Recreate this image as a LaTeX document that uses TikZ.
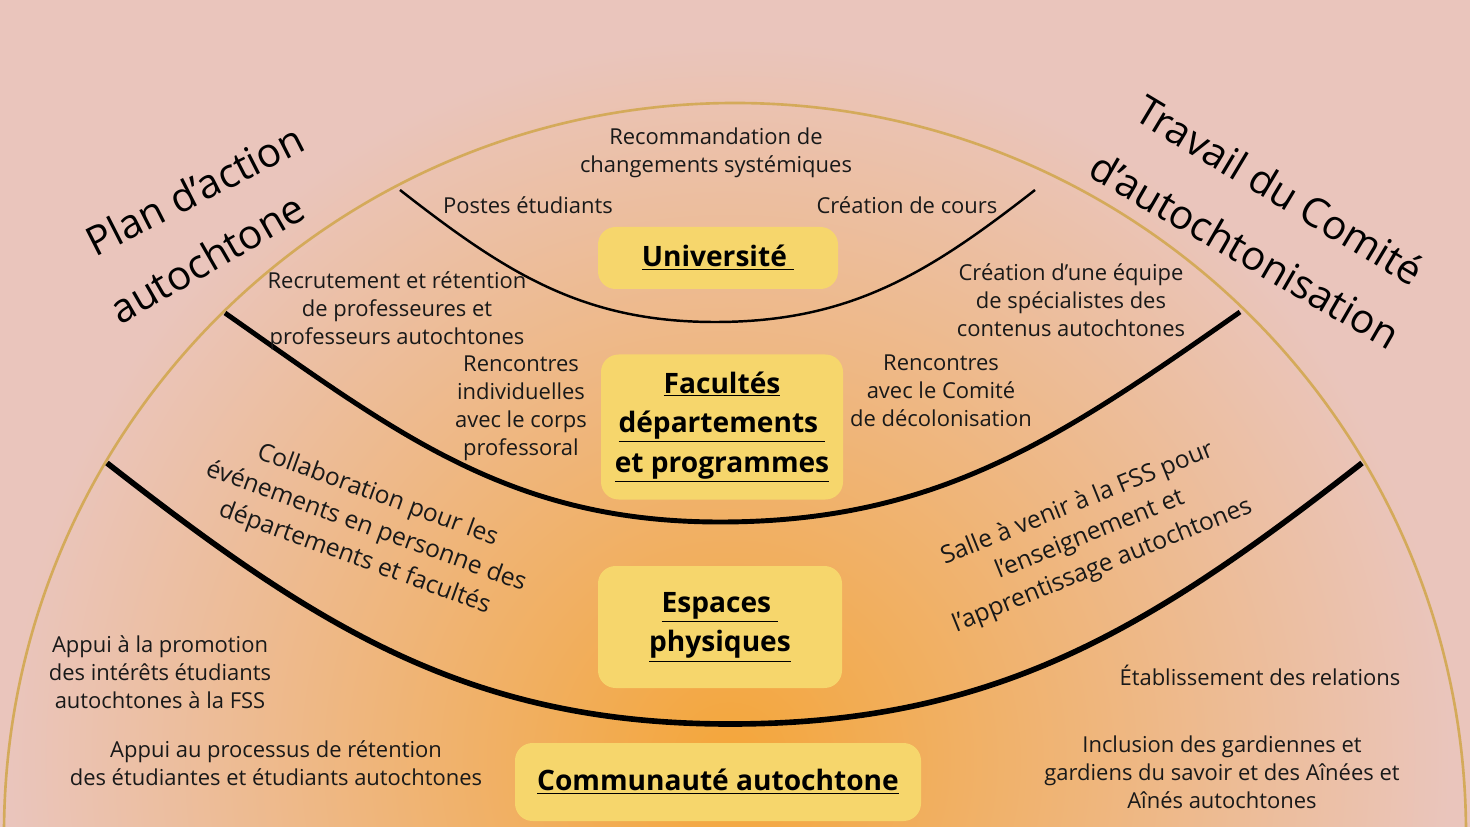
\documentclass[tikz,border=0pt]{standalone}
\usepackage{fontspec}
\setmainfont{Open Sans}
\definecolor{bgpink}{RGB}{234,197,188}
\definecolor{bgorange}{RGB}{244,166,58}
\definecolor{boxy}{RGB}{246,214,108}
\definecolor{gold}{RGB}{212,170,90}
\begin{document}
\begin{tikzpicture}[x=0.02cm,y=-0.02cm,
  title/.style={fill=boxy,rounded corners=10pt,align=center,font=\fontsize{16}{22.5}\selectfont\bfseries,inner sep=0pt},
  lbl/.style={align=center,font=\fontsize{12.5}{16}\selectfont,text=black!90},
  hand/.style={font=\fontsize{23}{28}\selectfont}]
\useasboundingbox (0,0) rectangle (1470,827);
\begin{scope}
\clip (0,0) rectangle (1470,827);
\fill[bgpink] (0,0) rectangle (1470,827);
\shade[inner color=bgorange,outer color=bgpink] (730,760) circle (720);
\draw[gold,line width=1.5pt] (735,834) circle (731);
\end{scope}
% curves
\draw[line width=1.4pt] (400,190) to[out=-38,in=180] (715,322) to[out=0,in=-142] (1035,190);
\draw[line width=2.8pt] (225,313) to[out=-35,in=180] (720,522) to[out=0,in=-145] (1240,312);
\draw[line width=3.2pt] (107,463) to[out=-38,in=180] (730,724) to[out=0,in=-142] (1362,463);
% boxes
\node[title,minimum width=240*0.02cm,minimum height=62*0.02cm] (u) at (718,258) {\underline{Université }};
\node[title,minimum width=242*0.02cm,minimum height=145*0.02cm] (f) at (722,427) {\underline{Facultés}\\\underline{départements }\\\underline{et programmes}};
\node[title,minimum width=244*0.02cm,minimum height=122*0.02cm] (e) at (720,627) {\underline{Espaces }\\\underline{physiques}};
\node[title,minimum width=406*0.02cm,minimum height=78*0.02cm] (c) at (718,782) {\underline{Communauté autochtone}};
% labels
\node[lbl] (l1) at (716,153) {Recommandation de\\changements systémiques};
\node[lbl] (l2) at (528,205) {Postes étudiants};
\node[lbl] (l3) at (907,205) {Création de cours};
\node[lbl] (l4) at (397,311) {Recrutement et rétention\\de professeures et\\professeurs autochtones};
\node[lbl] (l5) at (521,408) {Rencontres\\individuelles\\avec le corps\\professoral};
\node[lbl] (l6) at (1071,300) {Création d’une équipe\\de spécialistes des\\contenus autochtones};
\node[lbl] (l7) at (941,391) {Rencontres\\avec le Comité\\de décolonisation};
\node[lbl,rotate=-20,font=\fontsize{14}{19}\selectfont] (l8) at (366,527) {Collaboration pour les\\événements en personne des\\départements et facultés};
\node[lbl,rotate=22,font=\fontsize{14}{19}\selectfont] (l9) at (1090,535) {Salle à venir à la FSS pour\\l’enseignement et\\l’apprentissage autochtones};
\node[lbl] (l10) at (160,672) {Appui à la promotion\\des intérêts étudiants\\autochtones à la FSS};
\node[lbl] (l11) at (276,763) {Appui au processus de rétention\\des étudiantes et étudiants autochtones};
\node[lbl] (l12) at (1260,675) {Établissement des relations};
\node[lbl] (l13) at (1222,772) {Inclusion des gardiennes et\\gardiens du savoir et des Aînées et\\Aînés autochtones};
% handwritten titles
\node[hand,rotate=27] (h1) at (195,190) {Plan d’action};
\node[hand,rotate=30] (h2) at (207,258) {autochtone};
\node[hand,rotate=-31] (h3) at (1280,190) {Travail du Comité};
\node[hand,rotate=-30] (h4) at (1245,250) {d’autochtonisation};
\end{tikzpicture}
\end{document}
